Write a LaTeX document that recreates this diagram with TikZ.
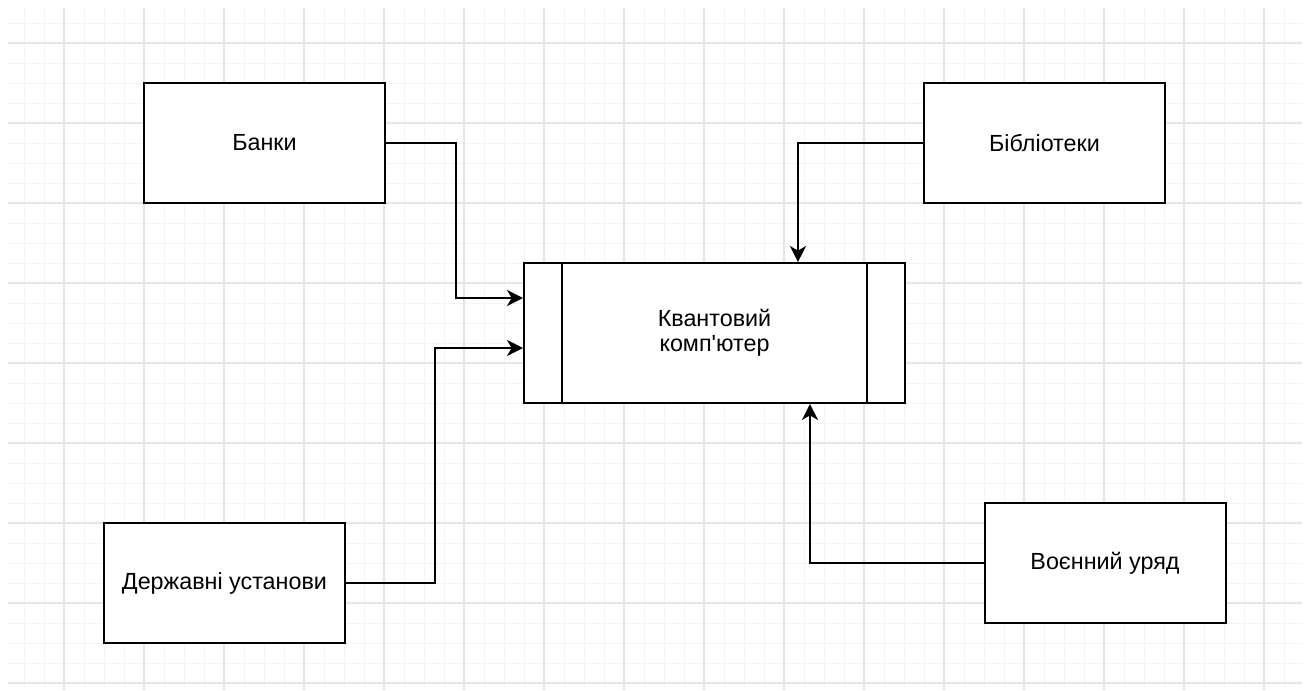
\documentclass[tikz,border=0pt]{standalone}
\usepackage{fontspec}
\newfontfamily\labelfont{Liberation Sans}
\usetikzlibrary{arrows.meta}

\begin{document}
\begin{tikzpicture}[
  x=0.75pt,y=-0.75pt,
  font=\labelfont\fontsize{17.5}{19}\selectfont,
  box/.style={draw,line width=1.5pt,minimum width=180.75pt,minimum height=90pt,align=center,fill=white},
  core/.style={draw,line width=1.5pt,minimum width=285.75pt,minimum height=105pt,align=center,fill=white},
  flow/.style={line width=1.5pt,-{Stealth[length=12pt,width=12pt,inset=3.5pt]}},
  minorline/.style={gray!9,line width=0.75pt},
  majorline/.style={gray!20,line width=0.9pt}
]
  \useasboundingbox (0,0) rectangle (1308,690);
  % grid
  \foreach \x in {24,44,...,1284} \draw[minorline] (\x,8) -- (\x,690);
  \foreach \y in {23,43,...,683} \draw[minorline] (8,\y) -- (1302,\y);
  \foreach \x in {64,144,...,1264} \draw[majorline] (\x,8) -- (\x,690);
  \foreach \y in {43,123,...,683} \draw[majorline] (8,\y) -- (1302,\y);

  \node[box] (bank) at (264.5,143) {Банки};
  \node[box] (lib) at (1044.5,143) {Бібліотеки};
  \node[core] (qc) at (714.5,333) {Квантовий\\комп'ютер};
  \node[box] (gov) at (224.5,583) {Державні установи};
  \node[box] (mil) at (1105,563) {Воєнний уряд};

  \draw[line width=1.5pt] ([xshift=29.25pt]qc.north west) -- ([xshift=29.25pt]qc.south west);
  \draw[line width=1.5pt] ([xshift=-29.25pt]qc.north east) -- ([xshift=-29.25pt]qc.south east);

  \draw[flow] (bank.east) -- ++(70,0) |- ([yshift=26.25pt]qc.west);
  \draw[flow] (gov.east) -- ++(89,0) |- ([yshift=-11.25pt]qc.west);
  \draw[flow] (lib.west) -| ([xshift=62.6pt]qc.north);
  \draw[flow] (mil.west) -| ([xshift=71.6pt]qc.south);
\end{tikzpicture}
\end{document}
